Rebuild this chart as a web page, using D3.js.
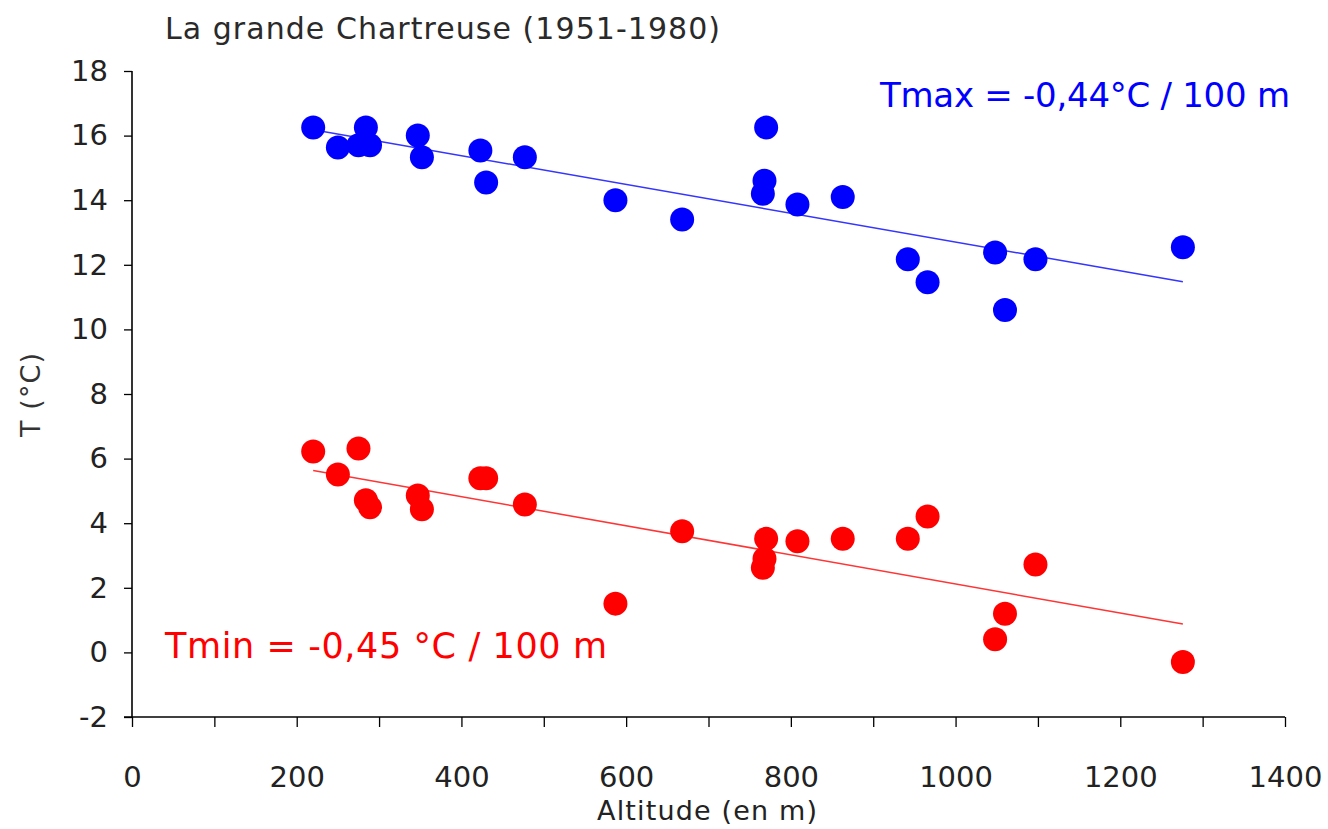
<!DOCTYPE html>
<html>
<head>
<meta charset="utf-8">
<script src="https://cdn.jsdelivr.net/npm/d3@7"></script>
<style>
  body { margin: 0; background: #fff; }
  svg { display: block; }
  .comic { font-family: "Comic Sans MS", "DejaVu Sans", sans-serif; }
  .tick text { font-family: "DejaVu Sans", Verdana, sans-serif; }
</style>
</head>
<body>
<div id="chart"></div>
<script>
// Data: station altitudes (m) and mean temps (°C)
const altitudes = [220, 250, 275, 284, 289, 347, 352, 423, 430, 477, 587, 668, 766, 768, 770, 808, 863, 942, 966, 1048, 1060, 1097, 1276];
const tmax = [16.25, 15.63, 15.70, 16.25, 15.70, 16.0, 15.33, 15.54, 14.55, 15.33, 14.0, 13.4, 14.2, 14.6, 16.25, 13.87, 14.1, 12.17, 11.46, 12.38, 10.6, 12.17, 12.54];
const tmin = [6.22, 5.51, 6.31, 4.71, 4.49, 4.86, 4.43, 5.39, 5.39, 4.58, 1.51, 3.75, 2.62, 2.9, 3.52, 3.44, 3.52, 3.52, 4.21, 0.41, 1.2, 2.72, -0.3];

const xTicks = [0, 200, 400, 600, 800, 1000, 1200, 1400];
const xMinor = [0, 100, 200, 300, 400, 500, 600, 700, 800, 900, 1000, 1100, 1200, 1300, 1400];
const yTicks = [-2, 0, 2, 4, 6, 8, 10, 12, 14, 16, 18];

const W = 1328, H = 829;
const margin = { left: 132, right: 43, top: 71, bottom: 112 };

const svg = d3.select('#chart').append('svg')
    .attr('width', W)
    .attr('height', H);

const x = d3.scaleLinear().domain([0, 1400]).range([margin.left, W - margin.right]);
const y = d3.scaleLinear().domain([-2, 18]).range([H - margin.bottom, margin.top]);

// least squares fit
function fit(xs, ys) {
    const mx = d3.mean(xs), my = d3.mean(ys);
    let num = 0, den = 0;
    xs.forEach((v, i) => { num += (v - mx) * (ys[i] - my); den += (v - mx) * (v - mx); });
    const slope = num / den;
    return { slope, intercept: my - slope * mx };
}

// axes
const xAxis = d3.axisBottom(x).tickValues(xMinor).tickSize(10).tickFormat(d => xTicks.includes(d) ? String(d) : '');
svg.append('g')
    .attr('transform', `translate(0,${y(-2)})`)
    .call(xAxis)
    .call(g => g.select('.domain').attr('stroke-width', 1.6).attr('d', `M${x(0) - 8},0H${x(1400)}`))
    .call(g => g.selectAll('.tick line').attr('stroke-width', 1.3))
    .call(g => g.selectAll('.tick text').attr('font-size', 29).attr('y', 70).attr('dy', 0).attr('fill', '#222'));

const yAxis = d3.axisLeft(y).tickValues(yTicks).tickSize(8).tickPadding(16).tickFormat(d => String(d));
svg.append('g')
    .attr('transform', `translate(${x(0)},0)`)
    .call(yAxis)
    .call(g => g.select('.domain').attr('stroke-width', 1.6).attr('d', `M0,${y(18)}V${y(-2)}`))
    .call(g => g.selectAll('.tick line').attr('stroke-width', 1.3))
    .call(g => g.selectAll('.tick text').attr('font-size', 29).attr('fill', '#222'));

// series
const series = [
    { values: tmax, color: '#0000ff', line: '#3535ff' },
    { values: tmin, color: '#ff0000', line: '#ff3535' }
];

series.forEach(s => {
    const f = fit(altitudes, s.values);
    const x0 = d3.min(altitudes), x1 = d3.max(altitudes);
    svg.append('line')
        .attr('x1', x(x0)).attr('y1', y(f.intercept + f.slope * x0))
        .attr('x2', x(x1)).attr('y2', y(f.intercept + f.slope * x1))
        .attr('stroke', s.line)
        .attr('stroke-width', 1.5);

    svg.append('g').selectAll('circle')
        .data(altitudes.map((a, i) => [a, s.values[i]]))
        .enter()
        .append('circle')
        .attr('cx', d => x(d[0]))
        .attr('cy', d => y(d[1]))
        .attr('r', 12)
        .attr('fill', s.color);
});

// texts
svg.append('text')
    .attr('class', 'comic')
    .attr('x', 165).attr('y', 39)
    .attr('font-size', 30)
    .attr('textLength', 555)
    .attr('fill', '#2a2a2a')
    .text('La grande Chartreuse (1951-1980)');

svg.append('text')
    .attr('class', 'comic')
    .attr('x', 880).attr('y', 107)
    .attr('font-size', 34)
    .attr('textLength', 410)
    .attr('fill', '#0000ff')
    .text('Tmax = -0,44°C / 100 m');

svg.append('text')
    .attr('class', 'comic')
    .attr('x', 165).attr('y', 658)
    .attr('font-size', 35)
    .attr('textLength', 442)
    .attr('fill', '#ff0000')
    .text('Tmin = -0,45 °C / 100 m');

svg.append('text')
    .attr('class', 'comic')
    .attr('transform', 'translate(40,395) rotate(-90)')
    .attr('text-anchor', 'middle')
    .attr('font-size', 27)
    .attr('textLength', 84)
    .attr('fill', '#333')
    .text('T (°C)');

svg.append('text')
    .attr('class', 'comic')
    .attr('x', 597).attr('y', 820)
    .attr('font-size', 27)
    .attr('textLength', 220)
    .attr('fill', '#222')
    .text('Altitude (en m)');
</script>
</body>
</html>
